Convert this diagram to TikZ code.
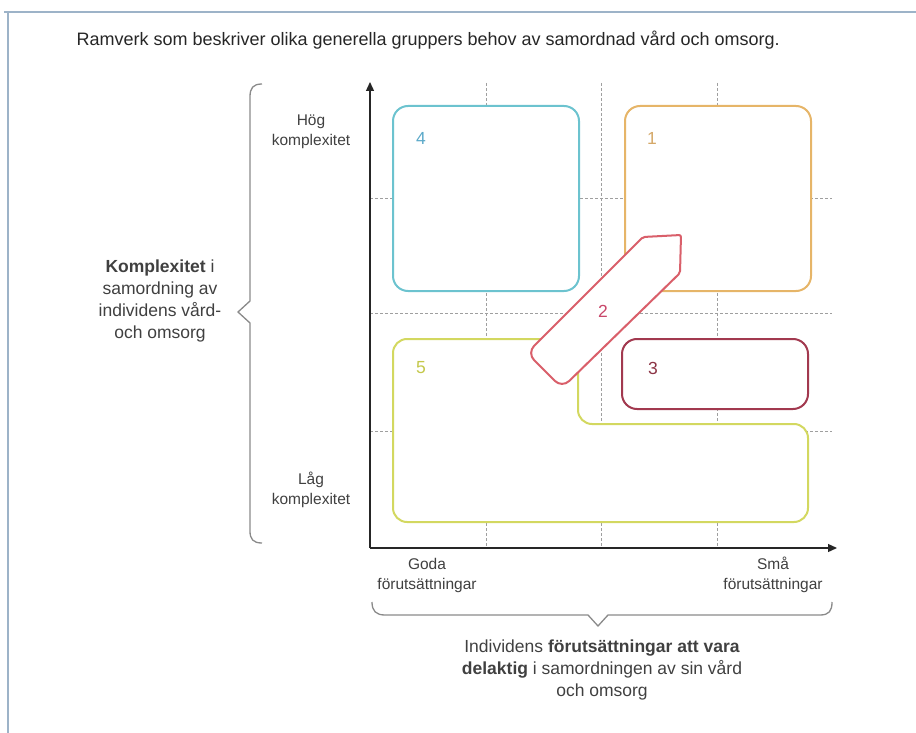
\documentclass[tikz,border=0pt]{standalone}
\usepackage{fontspec}
\setmainfont{Liberation Sans}
\usetikzlibrary{arrows.meta}
\definecolor{cyanbox}{HTML}{6CC3CF}
\definecolor{orangebox}{HTML}{E6B568}
\definecolor{maroonbox}{HTML}{A2394F}
\definecolor{redarrow}{HTML}{D95F6A}
\definecolor{limebox}{HTML}{D3D860}
\definecolor{numfour}{HTML}{5BA9C9}
\definecolor{numone}{HTML}{D5A868}
\definecolor{numthree}{HTML}{8C3445}
\definecolor{numtwo}{HTML}{C9476A}
\definecolor{numfive}{HTML}{C4C84A}
\definecolor{txt}{HTML}{404040}
\definecolor{framec}{HTML}{9DB3C8}
\definecolor{bracec}{HTML}{8A8A8A}
\begin{document}
\begin{tikzpicture}[x=1pt,y=-1pt,
  gridline/.style={gray!75,line width=0.8pt,dash pattern=on 3pt off 2pt},
  axisline/.style={black!85,line width=1.3pt,-{Triangle[length=9pt,width=8pt]}},
  zonebox/.style={line width=2pt,fill=white,rounded corners=15pt,draw},
  numlabel/.style={font=\fontsize{17.5}{20}\selectfont},
  axlabel/.style={font=\fontsize{15.5}{20}\selectfont,text=txt,align=center},
  desclabel/.style={font=\fontsize{17.5}{22}\selectfont,text=txt,align=center},
  bracepath/.style={bracec,line width=1.3pt,line join=miter}]
\useasboundingbox (0,0) rectangle (916,733);
% frame
\draw[framec,line width=2pt] (4,12) -- (916,12);
\draw[framec,line width=2pt] (8,12) -- (8,733);
% title
\node[anchor=west,font=\fontsize{18}{20}\selectfont,text=black!85] (title) at (73,40)
  {Ramverk som beskriver olika generella gruppers behov av samordnad vård och omsorg.};
% grid
\foreach \gx in {486,601,717} \draw[gridline] (\gx,83) -- (\gx,548);
\foreach \gy in {198,313,431} \draw[gridline] (370,\gy) -- (832,\gy);
% axes
\coordinate (O) at (370,548);
\coordinate (ytip) at (370,82);
\coordinate (xtip) at (837,548);
\draw[axisline] (O) -- (ytip);
\draw[axisline] (O) -- (xtip);
% boxes
\node[zonebox,draw=cyanbox,minimum width=186pt,minimum height=185pt,inner sep=0pt] (b4) at (486,198.5) {};
\node[zonebox,draw=orangebox,minimum width=186pt,minimum height=185pt,inner sep=0pt] (b1) at (718,198.5) {};
\node[zonebox,draw=maroonbox,minimum width=186pt,minimum height=70pt,inner sep=0pt] (b3) at (715,374) {};
% box 5 (L shape)
\draw[limebox,line width=2pt,fill=white,rounded corners=14pt]
  (480,339) -- (578,339) -- (578,424) -- (808,424) -- (808,522) -- (393,522) -- (393,339) -- cycle;
% arrow 2
\draw[redarrow,line width=2pt,fill=white,line join=round]
  (662,236) [rounded corners=2pt] -- (681,235) -- (680,273) [rounded corners=10pt] -- (562,388) -- (527,353) [rounded corners=2pt] -- (643,237) -- cycle;
% numbers
\node[numlabel,text=numfour] (n4) at (421,138) {4};
\node[numlabel,text=numone] (n1) at (652,138) {1};
\node[numlabel,text=numthree] (n3) at (653,368) {3};
\node[numlabel,text=numfive] (n5) at (421,368) {5};
\node[numlabel,text=numtwo] (n2) at (603,311) {2};
% axis labels
\node[axlabel] (hog) at (311,132) {Hög\\komplexitet};
\node[axlabel] (lag) at (311,490) {Låg\\komplexitet};
\node[axlabel] (goda) at (427,575) {Goda\\förutsättningar};
\node[axlabel] (sma) at (773,575) {Små\\förutsättningar};
% braces
\draw[bracepath] (262,84) .. controls (253,84) and (250,88) .. (250,97) -- (250,301) -- (238,312) -- (250,323) -- (250,531) .. controls (250,539) and (253,543) .. (262,543);
\draw[bracepath] (372,602) .. controls (372,611) and (376,615) .. (385,615) -- (588,615) -- (598,626) -- (608,615) -- (820,615) .. controls (829,615) and (832,611) .. (832,602);
% descriptions
\node[desclabel] (ydesc) at (160,301) {\textbf{Komplexitet} i\\samordning av\\individens vård-\\och omsorg};
\node[desclabel] (xdesc) at (602,670) {Individens \textbf{förutsättningar att vara}\\\textbf{delaktig} i samordningen av sin vård\\och omsorg};
\end{tikzpicture}
\end{document}
